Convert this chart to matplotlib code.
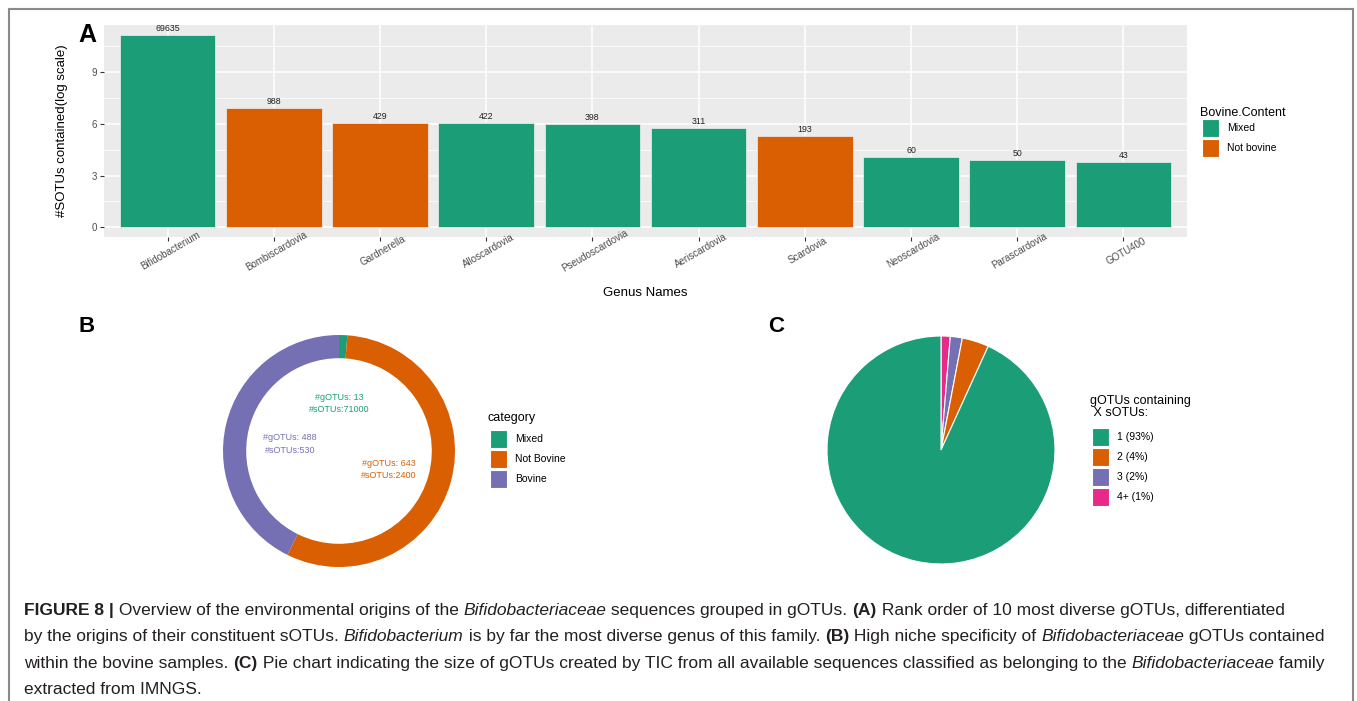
import numpy as np
import matplotlib
matplotlib.use('Agg')
import matplotlib.pyplot as plt
from matplotlib import font_manager
from matplotlib.patches import Rectangle
from matplotlib.lines import Line2D

W, H = 1357, 701

# ---- data ----
genera = ['Bifidobacterium', 'Bombiscardovia', 'Gardnerella', 'Alloscardovia',
          'Pseudoscardovia', 'Aeriscardovia', 'Scardovia', 'Neoscardovia',
          'Parascardovia', 'GOTU400']
sotu_counts = [69635, 988, 429, 422, 398, 311, 193, 60, 50, 43]
bovine_content = ['Mixed', 'Not bovine', 'Not bovine', 'Mixed', 'Mixed',
                  'Mixed', 'Not bovine', 'Mixed', 'Mixed', 'Mixed']

donut_categories = ['Mixed', 'Not Bovine', 'Bovine']
donut_gotus = [13, 643, 488]
donut_sotus = [71000, 2400, 530]

pie_labels = ['1 (93%)', '2 (4%)', '3 (2%)', '4+ (1%)']
pie_shares = [93.2, 3.8, 1.7, 1.3]

GREEN, ORANGE, PURPLE, PINK = '#1B9E77', '#D95F02', '#7570B3', '#E7298A'
content_colors = {'Mixed': GREEN, 'Not bovine': ORANGE}
donut_colors = [GREEN, ORANGE, PURPLE]
pie_colors = [GREEN, ORANGE, PURPLE, PINK]

names = {f.name for f in font_manager.fontManager.ttflist}
narrow = 'Liberation Sans Narrow' if 'Liberation Sans Narrow' in names else 'Liberation Sans'
plt.rcParams['font.family'] = ['Liberation Sans', 'DejaVu Sans']


def fx(x):
    return x / W


def fy(y):
    return 1 - y / H


fig = plt.figure(figsize=(W / 100, H / 100), dpi=100)

# frame round the figure
for xs, ys in [([9, 1353], [9, 9]), ([9, 9], [9, 701]), ([1353, 1353], [9, 701])]:
    fig.add_artist(Line2D([fx(v) for v in xs], [fy(v) for v in ys],
                          transform=fig.transFigure, color='#8a8a8a', lw=1.5))


def draw_legend(title, labels, colors, x, ytitle, ykey, size=7.5, tsize=9):
    fig.text(fx(x), fy(ytitle), title, fontsize=tsize, va='center', ha='left',
             linespacing=1.1)
    for i, (lab, c) in enumerate(zip(labels, colors)):
        top = ykey + i * 20
        fig.add_artist(Rectangle((fx(x + 2), fy(top + 18)), 17 / W, 18 / H,
                                 transform=fig.transFigure, facecolor=c,
                                 edgecolor='white', lw=0.8))
        fig.text(fx(x + 27), fy(top + 9), lab, fontsize=size, va='center')


# ---- panel A ----
ax = fig.add_axes([fx(104), fy(237), (1187 - 104) / W, (237 - 25) / H])
heights = np.log(sotu_counts)
xpos = np.arange(len(genera))
ax.bar(xpos, heights, width=0.9, color=[content_colors[c] for c in bovine_content],
       edgecolor='#f0f0f0', lw=0.5, zorder=3)
for xi, h, n in zip(xpos, heights, sotu_counts):
    ax.text(xi, h + 0.12, str(n), ha='center', va='bottom', fontsize=6.3, color='#222222')
top = heights.max()
ax.set_ylim(-0.05 * top, 1.05 * top)
ax.set_xlim(-0.6, len(genera) - 0.4)
ax.set_facecolor('#EBEBEB')
for s in ax.spines.values():
    s.set_visible(False)
ax.set_yticks([0, 3, 6, 9])
ax.set_yticks(np.arange(1.5, 12, 3), minor=True)
ax.set_xticks(xpos)
ax.set_xticklabels(genera, rotation=30, ha='center', va='top', rotation_mode='anchor')
ax.grid(which='major', color='white', lw=1.1)
ax.grid(which='minor', axis='y', color='white', lw=0.55)
ax.set_axisbelow(True)
ax.tick_params(which='major', length=3, width=0.8, color='#333333',
               labelsize=7, labelcolor='#4D4D4D', pad=2)
ax.tick_params(axis='x', pad=4)
ax.tick_params(which='minor', length=0)
ax.set_ylabel('#SOTUs contained(log scale)', fontsize=9.5)
ax.yaxis.set_label_coords((68 - 104) / (1187 - 104), 0.5)
fig.text(fx(645), fy(293), 'Genus Names', ha='center', va='center', fontsize=9.5)
fig.text(fx(78), fy(35), 'A', fontsize=18, weight='bold', va='center')
draw_legend('Bovine.Content', ['Mixed', 'Not bovine'], [GREEN, ORANGE], 1200, 113, 119)

# ---- panel B ----
axb = fig.add_axes([fx(223), fy(567), 232 / W, 232 / H])
axb.pie(donut_gotus, colors=donut_colors, startangle=90, counterclock=False,
        wedgeprops=dict(width=0.2, edgecolor='none'))
axb.set_xlim(-1, 1)
axb.set_ylim(-1, 1)
axb.set_aspect('equal')
label_xy = [(0.0, 0.41), (0.43, -0.16), (-0.42, 0.06)]
for (tx, ty), g, s, c in zip(label_xy, donut_gotus, donut_sotus, donut_colors):
    axb.text(tx, ty, f'#gOTUs: {g}\n#sOTUs:{s}', color=c, ha='center', va='center',
             fontsize=6.5, linespacing=1.5)
fig.text(fx(78), fy(327), 'B', fontsize=16, weight='bold', va='center')
draw_legend('category', donut_categories, donut_colors, 488, 418, 430)

# ---- panel C ----
axc = fig.add_axes([fx(827), fy(564), 228 / W, 228 / H])
axc.pie(pie_shares[::-1], colors=pie_colors[::-1], startangle=90, counterclock=False,
        wedgeprops=dict(edgecolor='white', lw=0.8))
axc.set_xlim(-1, 1)
axc.set_ylim(-1, 1)
axc.set_aspect('equal')
fig.text(fx(768), fy(327), 'C', fontsize=16, weight='bold', va='center')
draw_legend('gOTUs containing\n X sOTUs:', pie_labels, pie_colors, 1090, 407, 428)

# ---- caption ----
caption = [
    [('FIGURE 8 |', 'b'), (' Overview of the environmental origins of the ', 'n'),
     ('Bifidobacteriaceae', 'i'), (' sequences grouped in gOTUs. ', 'n'), ('(A)', 'b'),
     (' Rank order of 10 most diverse gOTUs, differentiated', 'n')],
    [('by the origins of their constituent sOTUs. ', 'n'), ('Bifidobacterium', 'i'),
     (' is by far the most diverse genus of this family. ', 'n'), ('(B)', 'b'),
     (' High niche specificity of ', 'n'), ('Bifidobacteriaceae', 'i'),
     (' gOTUs contained', 'n')],
    [('within the bovine samples. ', 'n'), ('(C)', 'b'),
     (' Pie chart indicating the size of gOTUs created by TIC from all available '
      'sequences classified as belonging to the ', 'n'),
     ('Bifidobacteriaceae', 'i'), (' family', 'n')],
    [('extracted from IMNGS.', 'n')],
]
renderer = fig.canvas.get_renderer()


def style_kw(kind, size):
    return dict(fontsize=size, family=narrow,
                weight='bold' if kind == 'b' else 'normal',
                style='italic' if kind == 'i' else 'normal')


def run_width(txt, kw):
    t = fig.text(0, 0, '|' + txt + '|', **kw)
    w1 = t.get_window_extent(renderer).width
    t.set_text('||')
    w2 = t.get_window_extent(renderer).width
    t.remove()
    return w1 - w2


base = 10
line2_w = sum(run_width(txt, style_kw(k, base)) for txt, k in caption[1])
cap_size = base * (1322 - 24) / line2_w

for li, line in enumerate(caption):
    x = 24
    y = 615 + li * 26.3
    for txt, k in line:
        kw = style_kw(k, cap_size)
        fig.text(fx(x), fy(y), txt, va='baseline', ha='left', color='#231F20', **kw)
        x += run_width(txt, kw)

fig.savefig('out.png', dpi=100)
